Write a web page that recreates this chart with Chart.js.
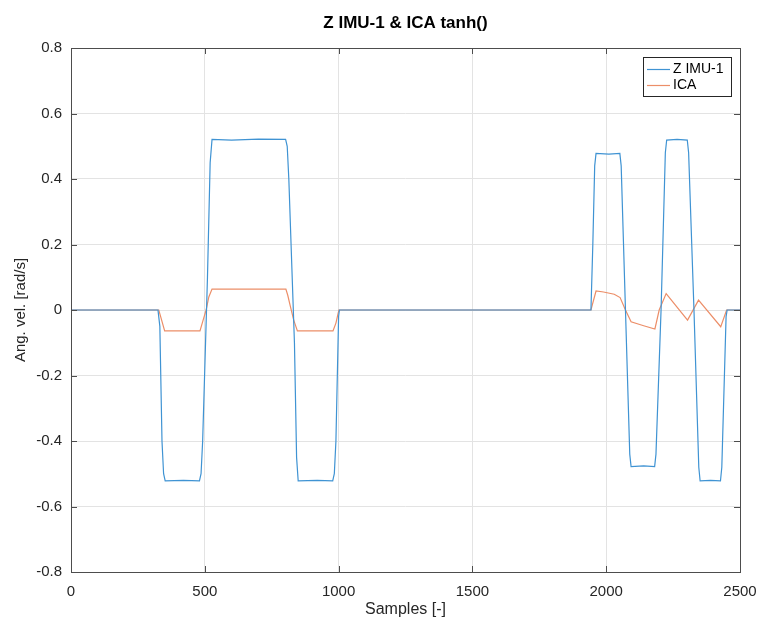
<!DOCTYPE html>
<html>
<head>
<meta charset="utf-8">
<script src="https://cdn.jsdelivr.net/npm/chart.js@4"></script>
<style>
  html, body { margin: 0; padding: 0; background: #fff; }
  #wrap { width: 758px; height: 621px; }
</style>
</head>
<body>
<div id="wrap"><canvas id="chart" width="758" height="621"></canvas></div>
<script>
const TITLE = "Z IMU-1 & ICA tanh()";
const X_LABEL = "Samples [-]";
const Y_LABEL = "Ang. vel. [rad/s]";
const X_TICKS = [0, 500, 1000, 1500, 2000, 2500];
const Y_TICKS = [-0.8, -0.6, -0.4, -0.2, 0, 0.2, 0.4, 0.6, 0.8];

// Z IMU-1 (breakpoints)
const imuX = [0, 325, 332, 340, 346, 352, 420, 480, 486, 492, 510, 520, 527, 600, 700, 802, 808, 814, 835, 843, 849, 920, 978, 984, 990, 1000, 1003,
  1943, 1950, 1957, 1962, 2010, 2051, 2056, 2072, 2088, 2093, 2140, 2181, 2186, 2205, 2221, 2226, 2265, 2303, 2308, 2328, 2346, 2351, 2390, 2427, 2432, 2448, 2452, 2500];
const imuY = [0, 0, -0.05, -0.40, -0.50, -0.522, -0.520, -0.522, -0.50, -0.40, 0.10, 0.45, 0.521, 0.519, 0.522, 0.521, 0.50, 0.40, -0.10, -0.45, -0.522, -0.520, -0.522, -0.50, -0.40, -0.02, 0,
  0, 0.20, 0.44, 0.478, 0.476, 0.478, 0.44, 0, -0.44, -0.478, -0.476, -0.478, -0.44, 0, 0.48, 0.519, 0.521, 0.519, 0.48, 0, -0.48, -0.522, -0.520, -0.522, -0.48, -0.02, 0, 0];

// ICA
const icaX = [0, 328, 335, 350, 482, 494, 505, 515, 527, 803, 810, 820, 832, 846, 979, 990, 1001,
  1943, 1962, 1990, 2030, 2052, 2072, 2093, 2140, 2182, 2198, 2224, 2304, 2345, 2428, 2450, 2500];
const icaY = [0, 0, -0.02, -0.064, -0.064, -0.03, 0, 0.04, 0.064, 0.064, 0.045, 0.01, -0.03, -0.064, -0.064, -0.04, 0,
  0, 0.058, 0.055, 0.048, 0.038, 0, -0.036, -0.048, -0.058, 0, 0.05, -0.031, 0.03, -0.051, 0, 0];

const BLUE = "#3f93d3";
const ORANGE = "#ec8e68";
const TEXT = "#262626";
const FONT = "'Liberation Sans', Arial, sans-serif";

function toPoints(xs, ys) {
  return xs.map((x, i) => ({ x, y: ys[i] }));
}

// box, inward ticks, title and legend in MATLAB style
const matlabFrame = {
  id: "matlabFrame",
  afterDraw(chart) {
    const { ctx, chartArea: a, scales } = chart;
    ctx.save();
    ctx.strokeStyle = "#4d4d4d";
    ctx.lineWidth = 1;
    ctx.strokeRect(Math.round(a.left) + 0.5, Math.round(a.top) + 0.5, Math.round(a.right - a.left), Math.round(a.bottom - a.top));

    const len = 6;
    ctx.beginPath();
    X_TICKS.forEach((v) => {
      const px = Math.round(scales.x.getPixelForValue(v)) + 0.5;
      ctx.moveTo(px, a.bottom); ctx.lineTo(px, a.bottom - len);
      ctx.moveTo(px, a.top); ctx.lineTo(px, a.top + len);
    });
    Y_TICKS.forEach((v) => {
      const py = Math.round(scales.y.getPixelForValue(v)) + 0.5;
      ctx.moveTo(a.left, py); ctx.lineTo(a.left + len, py);
      ctx.moveTo(a.right, py); ctx.lineTo(a.right - len, py);
    });
    ctx.stroke();

    ctx.fillStyle = "#000";
    ctx.font = `bold 17px ${FONT}`;
    ctx.textAlign = "center";
    ctx.textBaseline = "middle";
    ctx.fillText(TITLE, (a.left + a.right) / 2, 23);

    // legend
    const lx = 643, ly = 57, lw = 88, lh = 39;
    ctx.fillStyle = "#fff";
    ctx.fillRect(lx, ly, lw, lh);
    ctx.strokeStyle = "#262626";
    ctx.strokeRect(lx + 0.5, ly + 0.5, lw, lh);
    ctx.font = `14px ${FONT}`;
    ctx.textAlign = "left";
    chart.data.datasets.forEach((ds, i) => {
      const y = 69.5 + i * 16;
      ctx.strokeStyle = ds.borderColor;
      ctx.lineWidth = 1.2;
      ctx.beginPath();
      ctx.moveTo(647, y); ctx.lineTo(670, y);
      ctx.stroke();
      ctx.fillStyle = "#000";
      ctx.fillText(ds.label, 673, y);
    });
    ctx.restore();
  },
};

new Chart(document.getElementById("chart"), {
  type: "line",
  data: {
    datasets: [
      { label: "Z IMU-1", data: toPoints(imuX, imuY), borderColor: BLUE, borderWidth: 1.2, pointRadius: 0, tension: 0 },
      { label: "ICA", data: toPoints(icaX, icaY), borderColor: ORANGE, borderWidth: 1.2, pointRadius: 0, tension: 0 },
    ],
  },
  options: {
    responsive: false,
    animation: false,
    layout: { padding: { top: 48, right: 18, left: 0, bottom: 0 } },
    plugins: {
      legend: { display: false },
      title: { display: false },
      tooltip: { enabled: false },
    },
    scales: {
      x: {
        type: "linear",
        min: 0,
        max: 2500,
        afterBuildTicks: (scale) => { scale.ticks = X_TICKS.map((v) => ({ value: v })); },
        afterFit: (scale) => { scale.height = 49; scale.paddingLeft = 0; scale.paddingRight = 0; },
        ticks: { color: TEXT, font: { family: FONT, size: 15 }, padding: 11, maxRotation: 0, callback: (v) => String(v) },
        grid: { color: "#e3e3e3", drawTicks: false },
        border: { display: false },
        title: { display: true, text: X_LABEL, color: TEXT, font: { family: FONT, size: 16 }, padding: { top: 0, bottom: 2 } },
      },
      y: {
        type: "linear",
        min: -0.8,
        max: 0.8,
        afterBuildTicks: (scale) => { scale.ticks = Y_TICKS.map((v) => ({ value: v })); },
        afterFit: (scale) => { scale.width = 71; scale.paddingTop = 0; scale.paddingBottom = 0; },
        ticks: {
          color: TEXT,
          font: { family: FONT, size: 15 },
          padding: 9,
          callback: (v) => (Math.abs(v) < 1e-9 ? "0" : String(Math.round(v * 10) / 10)),
        },
        grid: { color: "#e3e3e3", drawTicks: false },
        border: { display: false },
        title: { display: true, text: Y_LABEL, color: TEXT, font: { family: FONT, size: 15 }, padding: { top: 12, bottom: 0 } },
      },
    },
  },
  plugins: [matlabFrame],
});
</script>
</body>
</html>
